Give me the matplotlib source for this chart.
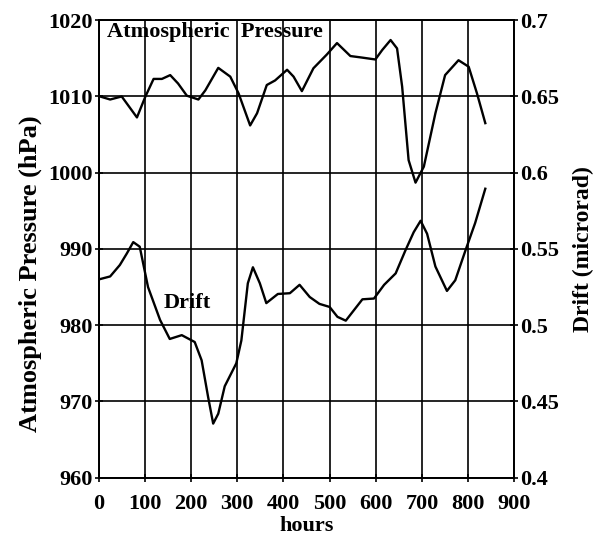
import matplotlib
matplotlib.use('Agg')
import matplotlib.pyplot as plt

plt.rcParams['font.family'] = ['Liberation Serif', 'DejaVu Serif']
plt.rcParams['font.weight'] = 'bold'

# pressure curve (hPa)
p_hours = [3, 25, 50, 83, 101, 119, 137, 155, 172, 191, 216, 231, 259, 285,
           303, 328, 343, 364, 382, 408, 422, 440, 465, 494, 516, 545, 570,
           599, 614, 632, 646, 657, 671, 686, 704, 729, 750, 779, 801, 819, 837]
pressure = [1010.0, 1009.6, 1010.0, 1007.25, 1009.95, 1012.3, 1012.3, 1012.8,
            1011.7, 1010.1, 1009.6, 1010.8, 1013.75, 1012.6, 1010.4, 1006.2,
            1007.8, 1011.5, 1012.1, 1013.5, 1012.6, 1010.7, 1013.7, 1015.5,
            1017.0, 1015.3, 1015.1, 1014.85, 1016.1, 1017.4, 1016.3, 1011.3,
            1001.65, 998.7, 1000.8, 1007.8, 1012.8, 1014.75, 1013.9, 1010.4,
            1006.5]

# drift curve (microrad)
d_hours = [0, 25, 46, 61, 75, 89, 107, 133, 154, 180, 208, 223, 237, 248, 259,
           273, 298, 309, 323, 334, 349, 363, 388, 414, 435, 457, 478, 500,
           517, 535, 553, 571, 596, 618, 643, 664, 682, 697, 711, 729, 754,
           772, 794, 815, 837]
drift = [0.530, 0.532, 0.5395, 0.547, 0.5545, 0.5515, 0.525, 0.5035, 0.491,
         0.4935, 0.489, 0.477, 0.453, 0.4355, 0.442, 0.460, 0.475, 0.490,
         0.5275, 0.538, 0.5275, 0.5145, 0.5205, 0.521, 0.5265, 0.5185, 0.514,
         0.512, 0.5055, 0.503, 0.510, 0.517, 0.5175, 0.5265, 0.534, 0.549,
         0.561, 0.5685, 0.560, 0.5385, 0.5225, 0.5295, 0.549, 0.567, 0.5895]

x_ticks = list(range(0, 901, 100))
p_ticks = list(range(960, 1021, 10))
d_ticks = [0.4, 0.45, 0.5, 0.55, 0.6, 0.65, 0.7]
d_labels = ['0.4', '0.45', '0.5', '0.55', '0.6', '0.65', '0.7']

fig = plt.figure(figsize=(5.94, 5.46), dpi=100)
ax = fig.add_axes([0.166, 0.125, 0.700, 0.838])
ax2 = ax.twinx()

ax.plot(p_hours, pressure, color='black', lw=1.7)
ax2.plot(d_hours, drift, color='black', lw=1.7)

ax.set_xlim(0, 900)
ax.set_ylim(960, 1020)
ax2.set_ylim(0.4, 0.7)
ax.set_xticks(x_ticks)
ax.set_yticks(p_ticks)
ax2.set_yticks(d_ticks)
ax2.set_yticklabels(d_labels)

ax.grid(True, color='black', lw=1.2)
for a in (ax, ax2):
    for s in a.spines.values():
        s.set_linewidth(1.3)
ax.tick_params(axis='y', labelsize=16, direction='inout', length=6,
               width=1.2, pad=1)
ax.tick_params(axis='x', labelsize=16, direction='inout', length=6,
               width=1.2, pad=9)
ax2.tick_params(axis='y', labelsize=16, direction='inout', length=6,
                width=1.2, pad=1)

ax.set_xlabel('hours', fontsize=16, fontweight='bold', labelpad=1)
ax.set_ylabel('Atmospheric Pressure (hPa)', fontsize=19, fontweight='bold')
ax.yaxis.set_label_coords(-0.135, 0.447)
ax2.set_ylabel('Drift (microrad)', fontsize=17, fontweight='bold',
               labelpad=10)

ax.text(18, 1018.4, 'Atmospheric  Pressure', fontsize=16, fontweight='bold',
        va='center', ha='left')
ax.text(140, 982.9, 'Drift', fontsize=16, fontweight='bold', va='center',
        ha='left')

fig.savefig('out.png', dpi=100)
